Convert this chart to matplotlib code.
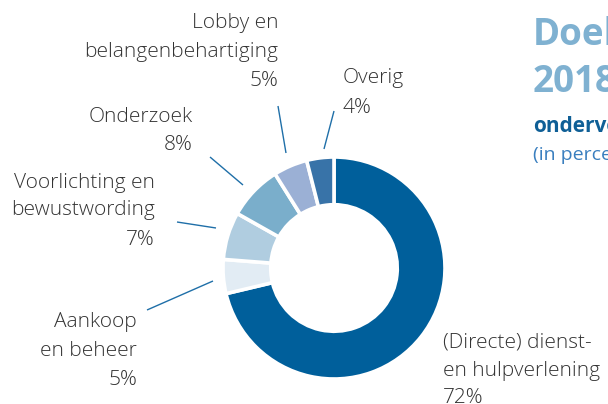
import matplotlib
matplotlib.use("Agg")
import matplotlib.pyplot as plt

# ---- data ----
categories = ["(Directe) dienst-\nen hulpverlening", "Aankoop\nen beheer",
              "Voorlichting en\nbewustwording", "Onderzoek",
              "Lobby en\nbelangenbehartiging", "Overig"]
values = [72, 5, 7, 8, 5, 4]
pct_labels = ["72%", "5%", "7%", "8%", "5%", "4%"]
colors = ["#005f9b", "#e2ecf4", "#b0cde0", "#7aaecb", "#9bb0d5", "#3873a8"]

title_lines = ["Doelbesteding", "2018"]
subtitle = "onderverdeeld"
subtitle2 = "(in percentages)"

W, H = 608, 404
fig = plt.figure(figsize=(W / 100, H / 100), dpi=100)
ax = fig.add_axes([0, 0, 1, 1])
ax.axis("off")

cx, cy, R = 334, 268, 111
ax.pie(values, colors=colors, startangle=90, counterclock=False,
       radius=R, center=(cx, H - cy),
       wedgeprops=dict(width=R * 0.43, edgecolor="white", linewidth=2.6))
ax.set_xlim(0, W)
ax.set_ylim(0, H)
ax.set_aspect("equal")

FONT = "Open Sans"
TXT = "#333333"
FS = 15


def put(x, y, s, ha, **kw):
    ax.text(x, H - y, s, ha=ha, va="baseline", fontsize=kw.pop("fs", FS),
            family=FONT, color=kw.pop("color", TXT),
            fontweight=kw.pop("weight", "light"), clip_on=False, **kw)


def label(lines, x, baselines, ha):
    for s, b in zip(lines, baselines):
        put(x, b, s, ha)


label(categories[0].split("\n") + [pct_labels[0]], 443, [348, 376, 403], "left")
label(categories[1].split("\n") + [pct_labels[1]], 137, [327, 356, 385], "right")
label(categories[2].split("\n") + [pct_labels[2]], 155, [188, 215, 245], "right")
label(categories[3].split("\n") + [pct_labels[3]], 193, [122, 150], "right")
label(categories[4].split("\n") + [pct_labels[4]], 278, [28, 57, 86], "right")
label(categories[5].split("\n") + [pct_labels[5]], 343, [83, 113], "left")

# leader lines
LC = "#1f6fa8"
leaders = [((147, 310), (213, 281)),
           ((177, 222), (216, 228)),
           ((210, 157), (243, 185)),
           ((278, 106), (286, 153)),
           ((334, 111), (324, 149))]
for (x0, y0), (x1, y1) in leaders:
    ax.plot([x0, x1], [H - y0, H - y1], color=LC, lw=1.0, solid_capstyle="butt")

# title block (clipped at right edge)
put(533, 45, title_lines[0], "left", fs=26.5, color="#7fb1d1", weight="bold")
put(533, 92, title_lines[1], "left", fs=26.5, color="#7fb1d1", weight="bold")
put(533, 132, subtitle, "left", fs=15, color="#0f5f96", weight="bold")
put(533, 160, subtitle2, "left", fs=14, color="#3a7fbf", weight="normal")

fig.savefig("out.png", dpi=100)
